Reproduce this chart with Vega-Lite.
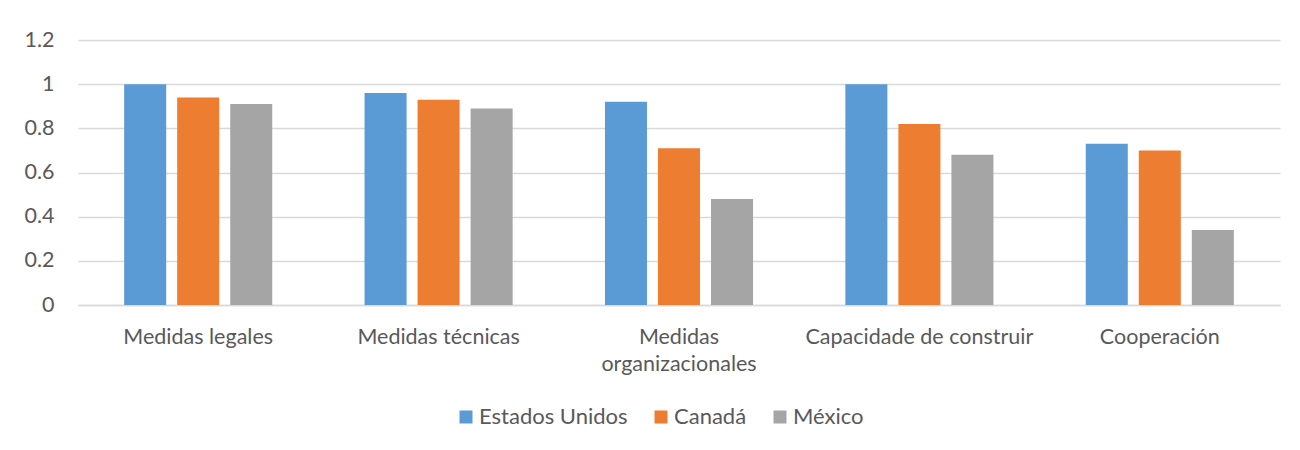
{
  "$schema": "https://vega.github.io/schema/vega-lite/v6.json",
  "width": 1202,
  "height": 265,
  "autosize": "none",
  "padding": {"left": 78, "top": 40, "right": 20, "bottom": 145},
  "background": "white",
  "config": {
    "view": {"stroke": null},
    "font": "Lato",
    "axis": {"labelFont": "Lato", "labelColor": "#595959", "labelFontSize": 21.5, "gridColor": "#D9D9D9", "gridWidth": 1.5}
  },
  "data": {
    "values": [
      {"categoria": "Medidas legales", "pais": "Estados Unidos", "valor": 1.0},
      {"categoria": "Medidas legales", "pais": "Canadá", "valor": 0.94},
      {"categoria": "Medidas legales", "pais": "México", "valor": 0.91},
      {"categoria": "Medidas técnicas", "pais": "Estados Unidos", "valor": 0.96},
      {"categoria": "Medidas técnicas", "pais": "Canadá", "valor": 0.93},
      {"categoria": "Medidas técnicas", "pais": "México", "valor": 0.89},
      {"categoria": "Medidas organizacionales", "pais": "Estados Unidos", "valor": 0.92},
      {"categoria": "Medidas organizacionales", "pais": "Canadá", "valor": 0.71},
      {"categoria": "Medidas organizacionales", "pais": "México", "valor": 0.48},
      {"categoria": "Capacidade de construir", "pais": "Estados Unidos", "valor": 1.0},
      {"categoria": "Capacidade de construir", "pais": "Canadá", "valor": 0.82},
      {"categoria": "Capacidade de construir", "pais": "México", "valor": 0.68},
      {"categoria": "Cooperación", "pais": "Estados Unidos", "valor": 0.73},
      {"categoria": "Cooperación", "pais": "Canadá", "valor": 0.70},
      {"categoria": "Cooperación", "pais": "México", "valor": 0.34}
    ]
  },
  "mark": {"type": "bar"},
  "encoding": {
    "x": {
      "field": "categoria",
      "type": "nominal",
      "sort": null,
      "scale": {"paddingInner": 0.384, "paddingOuter": 0.192},
      "axis": {
        "title": null,
        "labelAngle": 0,
        "ticks": false,
        "domainColor": "#D9D9D9",
        "domainWidth": 1.5,
        "labelPadding": 38,
        "labelLimit": 400,
        "labelLineHeight": 27,
        "labelBaseline": "alphabetic",
        "labelExpr": "datum.label == 'Medidas organizacionales' ? ['Medidas', 'organizacionales'] : datum.label"
      }
    },
    "xOffset": {
      "field": "pais",
      "type": "nominal",
      "sort": ["Estados Unidos", "Canadá", "México"],
      "scale": {"paddingInner": 0.2075, "paddingOuter": 0}
    },
    "y": {
      "field": "valor",
      "type": "quantitative",
      "scale": {"domain": [0, 1.2]},
      "axis": {
        "title": null,
        "values": [0, 0.2, 0.4, 0.6, 0.8, 1, 1.2],
        "domain": false,
        "ticks": false,
        "labelPadding": 24,
        "format": "~g"
      }
    },
    "color": {
      "field": "pais",
      "type": "nominal",
      "sort": ["Estados Unidos", "Canadá", "México"],
      "scale": {"domain": ["Estados Unidos", "Canadá", "México"], "range": ["#5B9BD5", "#ED7D31", "#A5A5A5"]},
      "legend": {
        "title": null,
        "orient": "none",
        "direction": "horizontal",
        "legendX": 377,
        "legendY": 366,
        "symbolType": "square",
        "symbolSize": 169,
        "symbolStrokeWidth": 0,
        "symbolOffset": 0,
        "labelFont": "Lato",
        "labelFontSize": 22,
        "labelColor": "#595959",
        "labelOffset": 2,
        "columnPadding": 22
      }
    }
  }
}
